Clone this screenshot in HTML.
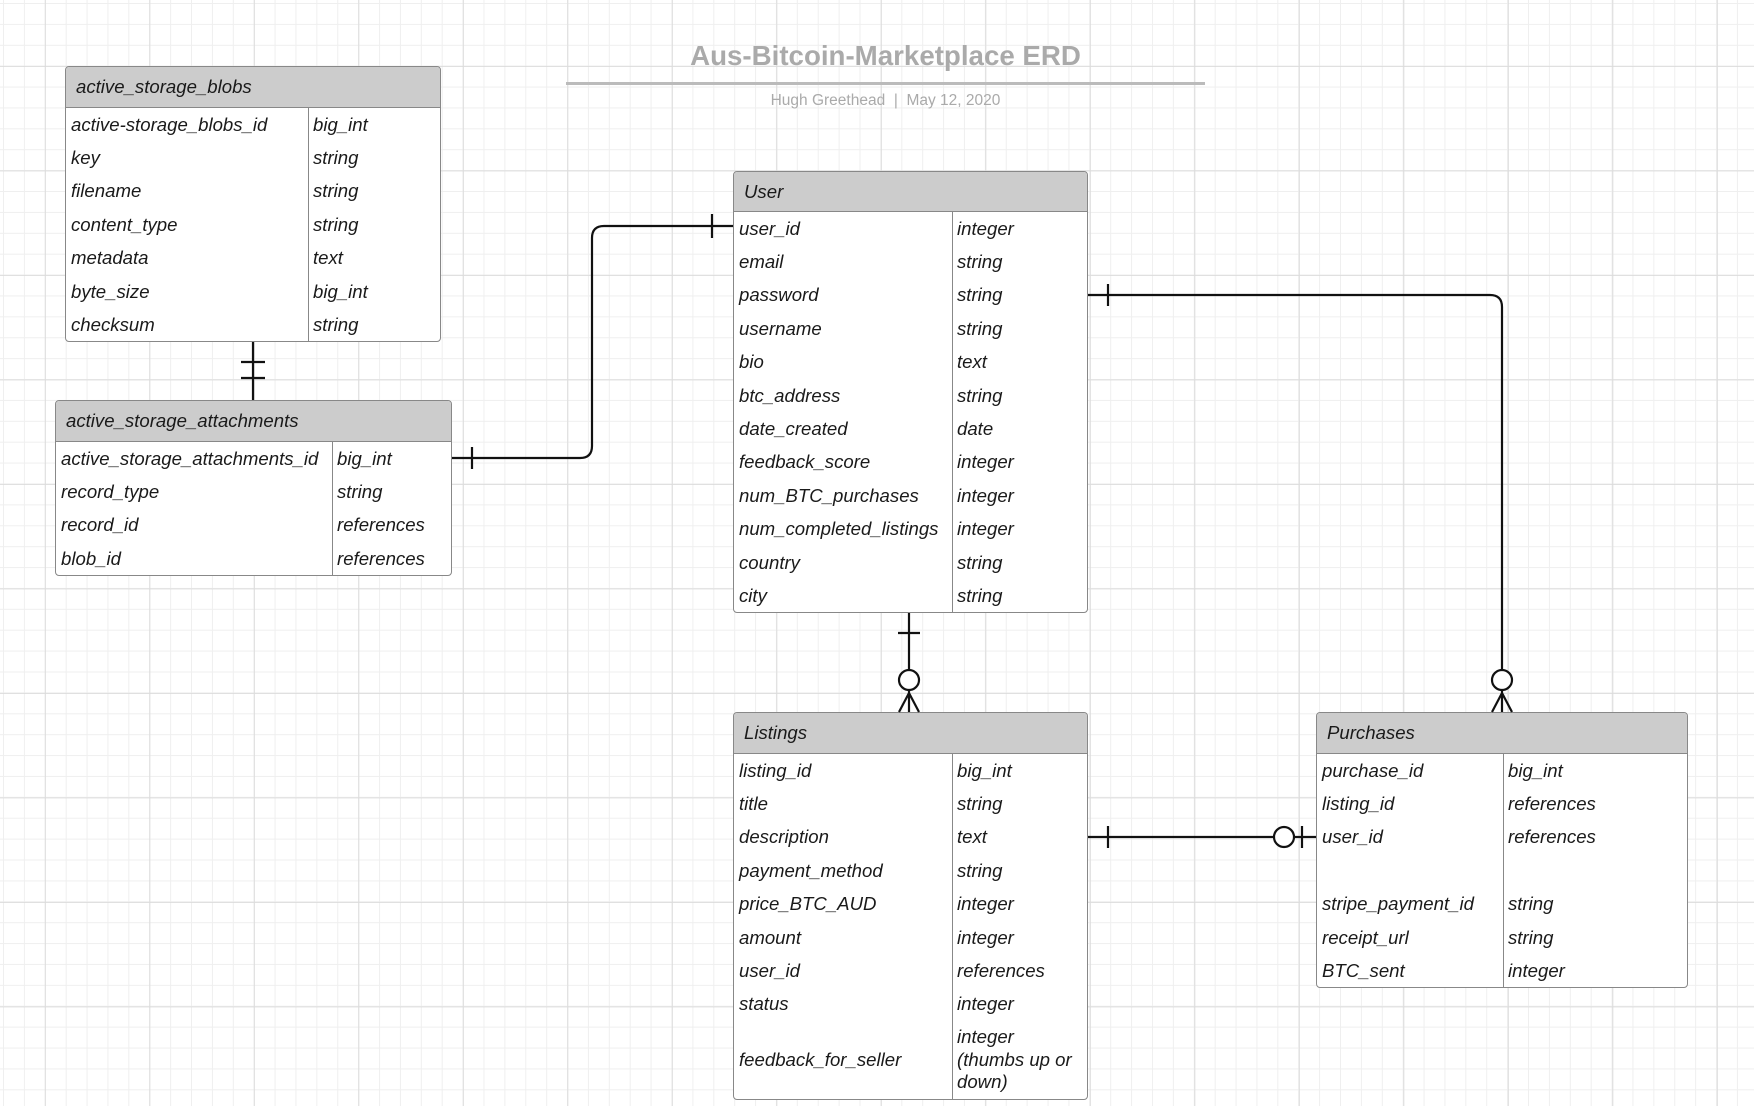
<!DOCTYPE html>
<html><head><meta charset="utf-8"><style>
body{margin:0;width:1754px;height:1106px;overflow:hidden;background:#fff;font-family:"Liberation Sans",sans-serif;position:relative;
background-image:linear-gradient(#dcdcdc 1px,transparent 1px),linear-gradient(90deg,#dcdcdc 1px,transparent 1px),linear-gradient(#efefef 1px,transparent 1px),linear-gradient(90deg,#efefef 1px,transparent 1px);
background-size:104.5px 104.5px,104.5px 104.5px,20.9px 20.9px,20.9px 20.9px;background-position:0 65.9px,44.8px 0,0 3px,3px 0;}
.t{position:absolute;border:1px solid #888;border-radius:4px;background:#fff;overflow:hidden;box-sizing:border-box;font-style:italic;color:#1a1a1a;font-size:18.6px}
.h{background:#ccc;border-bottom:1px solid #888;box-sizing:border-box;padding-left:10px;display:flex;align-items:center}
.r{display:flex;align-items:center;height:33.4px}
.a{padding-left:5px;box-sizing:border-box;white-space:nowrap}
.b{padding-left:5px;box-sizing:border-box;white-space:nowrap}
.d{position:absolute;top:0;bottom:0;border-left:1px solid #888}
svg{position:absolute;left:0;top:0}
</style></head><body>
<div style="position:absolute;left:566px;width:639px;top:40px;text-align:center;font-size:27.7px;font-weight:bold;color:#aaa">Aus-Bitcoin-Marketplace ERD</div>
<div style="position:absolute;left:566px;width:639px;top:82px;border-top:3px solid #bbb"></div>
<div style="position:absolute;left:566px;width:639px;top:92px;text-align:center;font-size:15.5px;color:#aaa">Hugh Greethead &nbsp;|&nbsp; May 12, 2020</div>

<!-- blobs -->
<div class="t" style="left:65px;top:66px;width:376px;height:276px">
<div class="h" style="height:41px">active_storage_blobs</div>
<div style="position:relative"><div class="d" style="left:242px"></div>
<div class="r"><span class="a" style="width:242px">active-storage_blobs_id</span><span class="b">big_int</span></div>
<div class="r"><span class="a" style="width:242px">key</span><span class="b">string</span></div>
<div class="r"><span class="a" style="width:242px">filename</span><span class="b">string</span></div>
<div class="r"><span class="a" style="width:242px">content_type</span><span class="b">string</span></div>
<div class="r"><span class="a" style="width:242px">metadata</span><span class="b">text</span></div>
<div class="r"><span class="a" style="width:242px">byte_size</span><span class="b">big_int</span></div>
<div class="r"><span class="a" style="width:242px">checksum</span><span class="b">string</span></div>
</div></div>

<!-- attachments -->
<div class="t" style="left:55px;top:400px;width:397px;height:176px">
<div class="h" style="height:41px">active_storage_attachments</div>
<div style="position:relative"><div class="d" style="left:276px"></div>
<div class="r"><span class="a" style="width:276px">active_storage_attachments_id</span><span class="b">big_int</span></div>
<div class="r"><span class="a" style="width:276px">record_type</span><span class="b">string</span></div>
<div class="r"><span class="a" style="width:276px">record_id</span><span class="b">references</span></div>
<div class="r"><span class="a" style="width:276px">blob_id</span><span class="b">references</span></div>
</div></div>

<!-- User -->
<div class="t" style="left:733px;top:171px;width:355px;height:442px">
<div class="h" style="height:40px">User</div>
<div style="position:relative"><div class="d" style="left:218px"></div>
<div class="r"><span class="a" style="width:218px">user_id</span><span class="b">integer</span></div>
<div class="r"><span class="a" style="width:218px">email</span><span class="b">string</span></div>
<div class="r"><span class="a" style="width:218px">password</span><span class="b">string</span></div>
<div class="r"><span class="a" style="width:218px">username</span><span class="b">string</span></div>
<div class="r"><span class="a" style="width:218px">bio</span><span class="b">text</span></div>
<div class="r"><span class="a" style="width:218px">btc_address</span><span class="b">string</span></div>
<div class="r"><span class="a" style="width:218px">date_created</span><span class="b">date</span></div>
<div class="r"><span class="a" style="width:218px">feedback_score</span><span class="b">integer</span></div>
<div class="r"><span class="a" style="width:218px">num_BTC_purchases</span><span class="b">integer</span></div>
<div class="r"><span class="a" style="width:218px">num_completed_listings</span><span class="b">integer</span></div>
<div class="r"><span class="a" style="width:218px">country</span><span class="b">string</span></div>
<div class="r"><span class="a" style="width:218px">city</span><span class="b">string</span></div>
</div></div>

<!-- Listings -->
<div class="t" style="left:733px;top:712px;width:355px;height:388px">
<div class="h" style="height:41px">Listings</div>
<div style="position:relative;height:347px"><div class="d" style="left:218px"></div>
<div class="r"><span class="a" style="width:218px">listing_id</span><span class="b">big_int</span></div>
<div class="r"><span class="a" style="width:218px">title</span><span class="b">string</span></div>
<div class="r"><span class="a" style="width:218px">description</span><span class="b">text</span></div>
<div class="r"><span class="a" style="width:218px">payment_method</span><span class="b">string</span></div>
<div class="r"><span class="a" style="width:218px">price_BTC_AUD</span><span class="b">integer</span></div>
<div class="r"><span class="a" style="width:218px">amount</span><span class="b">integer</span></div>
<div class="r"><span class="a" style="width:218px">user_id</span><span class="b">references</span></div>
<div class="r"><span class="a" style="width:218px">status</span><span class="b">integer</span></div>
<div class="r" style="height:78px"><span class="a" style="width:218px">feedback_for_seller</span><span class="b" style="white-space:normal;width:130px;line-height:22.5px">integer (thumbs up or down)</span></div>
</div></div>

<!-- Purchases -->
<div class="t" style="left:1316px;top:712px;width:372px;height:276px">
<div class="h" style="height:41px">Purchases</div>
<div style="position:relative"><div class="d" style="left:186px"></div>
<div class="r"><span class="a" style="width:186px">purchase_id</span><span class="b">big_int</span></div>
<div class="r"><span class="a" style="width:186px">listing_id</span><span class="b">references</span></div>
<div class="r"><span class="a" style="width:186px">user_id</span><span class="b">references</span></div>
<div class="r"></div>
<div class="r"><span class="a" style="width:186px">stripe_payment_id</span><span class="b">string</span></div>
<div class="r"><span class="a" style="width:186px">receipt_url</span><span class="b">string</span></div>
<div class="r"><span class="a" style="width:186px">BTC_sent</span><span class="b">integer</span></div>
</div></div>

<svg width="1754" height="1106" fill="none" stroke="#111" stroke-width="2.2">
<path d="M253 342V400M241 362H265M241 378H265"/>
<path d="M452 458H580Q592 458 592 446V238Q592 226 604 226H733"/>
<path d="M472 447V469M712 214V238"/>
<path d="M1088 295H1490Q1502 295 1502 307V670"/>
<path d="M1108 284V306"/>
<circle cx="1502" cy="680" r="10" fill="#fff"/>
<path d="M1502 690V712M1502 693L1492 712M1502 693L1512 712"/>
<path d="M909 613V670M898 633H920"/>
<circle cx="909" cy="680" r="10" fill="#fff"/>
<path d="M909 690V712M909 693L899 712M909 693L919 712"/>
<path d="M1088 837H1274M1294 837H1316M1108 826V848M1302 826V848"/>
<circle cx="1284" cy="837" r="10" fill="#fff"/>
</svg>
</body></html>
